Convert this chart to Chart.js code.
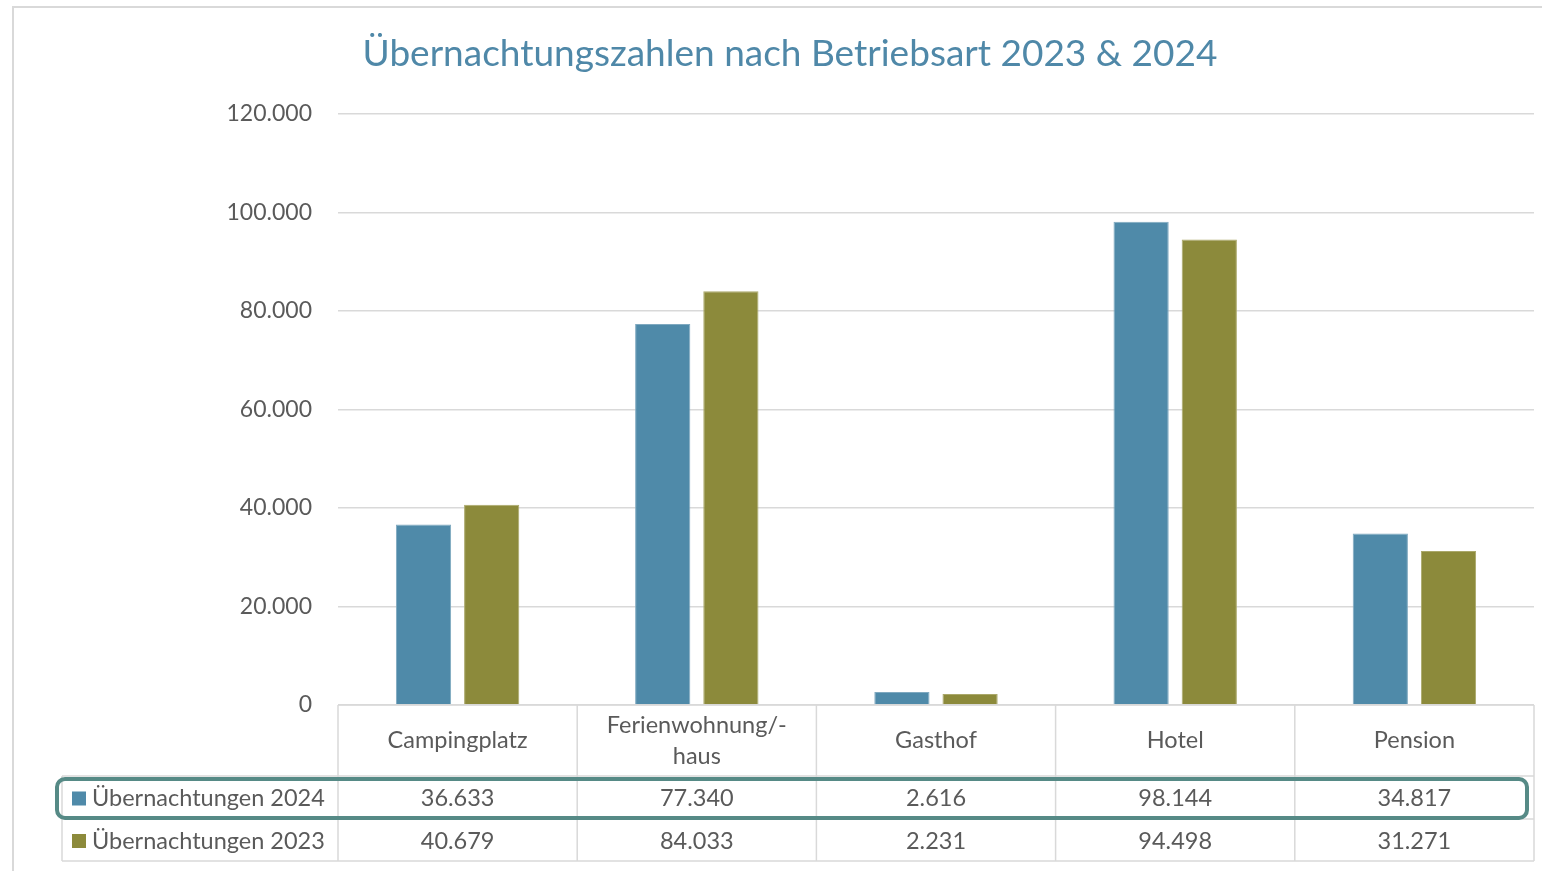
<!DOCTYPE html>
<html lang="de">
<head>
<meta charset="utf-8">
<title>Übernachtungszahlen nach Betriebsart</title>
<script src="https://cdn.jsdelivr.net/npm/chart.js@4/dist/chart.umd.min.js"></script>
<style>
  html, body { margin: 0; padding: 0; background: #fff; }
  canvas { display: block; }
</style>
</head>
<body>
<canvas id="nights" width="1542" height="871"></canvas>
<script>
(() => {
    'use strict';

    const chartTitle = 'Übernachtungszahlen nach Betriebsart 2023 & 2024';
    const categories = ['Campingplatz', ['Ferienwohnung/-', 'haus'], 'Gasthof', 'Hotel', 'Pension'];
    const seriesNames = ['Übernachtungen 2024', 'Übernachtungen 2023'];
    const nights2024 = [36633, 77340, 2616, 98144, 34817];
    const nights2023 = [40679, 84033, 2231, 94498, 31271];
    const yMax = 120000;
    const yStep = 20000;

    const blue = '#4f8aa9';
    const olive = '#8c8a3b';
    const titleColor = '#4f88a8';
    const text = '#5a5a5a';
    const grid = '#d9d9d9';
    const highlight = '#568a86';
    const font = 'Lato, "Open Sans", sans-serif';

    // German thousands separator: 120000 -> 120.000
    const fmt = v => String(Math.round(v)).replace(/\B(?=(\d{3})+(?!\d))/g, '.');

    const frameAndTable = {
        id: 'frameAndTable',
        beforeDraw(chart) {
            const { ctx, width, height } = chart;
            ctx.save();
            ctx.fillStyle = '#fff';
            ctx.fillRect(0, 0, width, height);
            ctx.strokeStyle = grid;
            ctx.lineWidth = 2;
            ctx.beginPath();
            ctx.moveTo(13, height);
            ctx.lineTo(13, 7);
            ctx.lineTo(width, 7);
            ctx.stroke();

            ctx.fillStyle = titleColor;
            ctx.font = `37px ${font}`;
            ctx.textAlign = 'center';
            ctx.textBaseline = 'middle';
            ctx.fillText(chartTitle, 790, 54);
            ctx.restore();
        },
        afterDraw(chart) {
            const { ctx, chartArea } = chart;
            const n = categories.length;
            const colW = (chartArea.right - chartArea.left) / n;
            const edges = Array.from({ length: n + 1 }, (_, i) => chartArea.left + i * colW);
            const top = chartArea.bottom;
            const headBottom = 776;
            const rowBottoms = [819, 861];
            const tableLeft = 62;

            ctx.save();
            ctx.strokeStyle = grid;
            ctx.lineWidth = 1.5;
            ctx.beginPath();
            ctx.moveTo(chartArea.left, top);
            ctx.lineTo(chartArea.right, top);
            edges.forEach(x => { ctx.moveTo(x, top); ctx.lineTo(x, rowBottoms[1]); });
            [headBottom, ...rowBottoms].forEach(y => { ctx.moveTo(tableLeft, y); ctx.lineTo(chartArea.right, y); });
            ctx.moveTo(tableLeft, headBottom);
            ctx.lineTo(tableLeft, rowBottoms[1]);
            ctx.stroke();

            ctx.fillStyle = text;
            ctx.font = `23.5px ${font}`;
            ctx.textAlign = 'center';
            ctx.textBaseline = 'middle';
            const headMid = (top + headBottom) / 2;
            categories.forEach((c, i) => {
                const cx = chart.scales.x.getPixelForValue(i);
                const lines = Array.isArray(c) ? c : [c];
                lines.forEach((line, k) => {
                    ctx.fillText(line, cx, headMid + (k - (lines.length - 1) / 2) * 31);
                });
            });

            const rowTops = [headBottom, rowBottoms[0]];
            chart.data.datasets.forEach((ds, r) => {
                const cy = (rowTops[r] + rowBottoms[r]) / 2 + 1;
                ctx.textAlign = 'center';
                ds.data.forEach((v, i) => {
                    ctx.fillStyle = text;
                    ctx.fillText(fmt(v), chart.scales.x.getPixelForValue(i), cy);
                });
                ctx.fillStyle = ds.backgroundColor;
                ctx.fillRect(72, cy - 7, 14, 14);
                ctx.fillStyle = text;
                ctx.textAlign = 'left';
                ctx.fillText(ds.label, 92, cy);
            });

            ctx.strokeStyle = highlight;
            ctx.lineWidth = 4;
            ctx.beginPath();
            ctx.roundRect(57, 779, 1470, 39, 8);
            ctx.stroke();
            ctx.restore();
        }
    };

    new Chart(document.getElementById('nights'), {
        type: 'bar',
        data: {
            labels: categories,
            datasets: [
                { label: seriesNames[0], data: nights2024, backgroundColor: blue, borderColor: '#7fa9c0', borderWidth: 1 },
                { label: seriesNames[1], data: nights2023, backgroundColor: olive, borderColor: '#aaa86a', borderWidth: 1 }
            ]
        },
        options: {
            responsive: false,
            animation: false,
            categoryPercentage: 0.57,
            barPercentage: 0.81,
            layout: { padding: { left: 0, right: 8, top: 114, bottom: 166 } },
            plugins: {
                legend: { display: false },
                title: { display: false },
                tooltip: { enabled: false }
            },
            scales: {
                x: { display: false },
                y: {
                    min: 0,
                    max: yMax,
                    afterFit: s => { s.width = 338; },
                    border: { display: false },
                    grid: { color: grid, lineWidth: 1.5, drawTicks: false },
                    ticks: {
                        stepSize: yStep,
                        padding: 26,
                        color: text,
                        font: { family: font, size: 23 },
                        callback: v => fmt(v)
                    }
                }
            }
        },
        plugins: [frameAndTable]
    });
})();
</script>
</body>
</html>
